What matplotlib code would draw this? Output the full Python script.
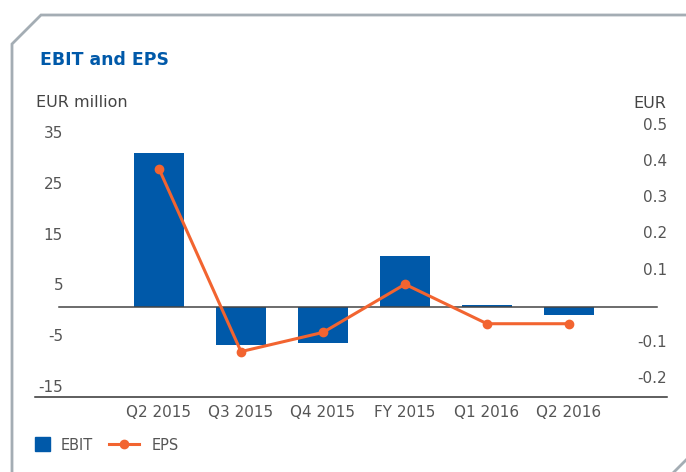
import matplotlib
matplotlib.use("Agg")
import matplotlib.pyplot as plt
from matplotlib.lines import Line2D
from matplotlib.patches import Rectangle
from matplotlib.transforms import ScaledTranslation

plt.rcParams['font.family'] = ['DejaVu Sans']

categories = ["Q2 2015", "Q3 2015", "Q4 2015", "FY 2015", "Q1 2016", "Q2 2016"]
ebit = [30.3, -7.5, -7.1, 10.0, 0.3, -1.6]
eps = [0.381, -0.124, -0.071, 0.062, -0.047, -0.047]
left_ticks = [-15, -5, 5, 15, 25, 35]
right_ticks = [-0.2, -0.1, 0.1, 0.2, 0.3, 0.4, 0.5]
right_ticklabels = ["-0.2", "-0.1", "0.1", "0.2", "0.3", "0.4", "0.5"]

BLUE = '#0059A9'
ORANGE = '#F26430'
GREY_TXT = '#555555'
FRAME = '#A4ADB4'

W, H = 686, 472
fig = plt.figure(figsize=(W / 100, H / 100), dpi=100)

def fx(x):
    return x / W

def fy(y):
    return 1 - y / H

ax_left, ax_right, ax_bottom, ax_top = 35, 667, 396.7, 115
ax = fig.add_axes([fx(ax_left), fy(ax_bottom), (ax_right - ax_left) / W, (ax_bottom - ax_top) / H])

x = list(range(len(categories)))
ax.bar(x, ebit, width=0.61, color=BLUE, zorder=2)
ax.set_xlim(-1.512, 6.195)
ax.set_ylim(-17.72, 37.74)
ax.axhline(0, xmin=(59 - 35) / 632, xmax=(657 - 35) / 632, color='#444444', lw=1.1, zorder=3)

for s in ['left', 'right', 'top']:
    ax.spines[s].set_visible(False)
ax.spines['bottom'].set_color('#333333')
ax.spines['bottom'].set_linewidth(1.1)

ax.set_xticks(x)
ax.set_xticklabels(categories)
ax.set_yticks(left_ticks)
ax.set_yticklabels([str(t) for t in left_ticks])
ax.tick_params(axis='x', length=0, pad=6, labelsize=11, labelcolor=GREY_TXT)
ax.tick_params(axis='y', length=0, pad=-20.2, labelsize=11, labelcolor=GREY_TXT)
for lab in ax.get_yticklabels():
    lab.set_transform(lab.get_transform() + ScaledTranslation(0, -3 / 100, fig.dpi_scale_trans))

ax2 = ax.twinx()
ax2.set_ylim(-0.2486, 0.5296)
ax2.plot(x, eps, color=ORANGE, lw=2.2, marker='o', markersize=6, zorder=4)
for s in ['left', 'right', 'top', 'bottom']:
    ax2.spines[s].set_visible(False)
ax2.set_yticks(right_ticks)
ax2.set_yticklabels(right_ticklabels)
ax2.tick_params(axis='y', length=0, pad=0, labelsize=11, labelcolor=GREY_TXT)
for lab in ax2.get_yticklabels():
    lab.set_ha('right')
    lab.set_transform(lab.get_transform() + ScaledTranslation(0, 2 / 100, fig.dpi_scale_trans))

# Texts
fig.text(fx(40), fy(65), "EBIT and EPS", fontsize=12.4, fontweight='bold', color=BLUE, ha='left', va='baseline')
fig.text(fx(36), fy(107), "EUR million", fontsize=11.5, color='#444444', ha='left', va='baseline')
fig.text(fx(666), fy(107.5), "EUR", fontsize=11.5, color='#444444', ha='right', va='baseline')

# Legend
fig.patches.append(Rectangle((fx(35), fy(451)), (50 - 35) / W, (451 - 437) / H,
                             transform=fig.transFigure, color=BLUE, figure=fig))
fig.text(fx(61), fy(449.5), "EBIT", fontsize=10.5, color=GREY_TXT, ha='left', va='baseline')
fig.lines.append(Line2D([fx(109), fx(139)], [fy(443.5), fy(443.5)], transform=fig.transFigure,
                        color=ORANGE, lw=2.2, figure=fig))
fig.lines.append(Line2D([fx(124)], [fy(443.5)], transform=fig.transFigure, color=ORANGE,
                        marker='o', markersize=6, lw=0, figure=fig))
fig.text(fx(152), fy(449.5), "EPS", fontsize=10.5, color=GREY_TXT, ha='left', va='baseline')

# Frame with cut corners
frame_pts_x = [fx(12), fx(12), fx(41), fx(690)]
frame_pts_y = [fy(480), fy(44), fy(15), fy(15)]
fig.lines.append(Line2D(frame_pts_x, frame_pts_y, transform=fig.transFigure, color=FRAME,
                        lw=2.0, solid_joinstyle='miter', figure=fig))
fig.lines.append(Line2D([fx(688), fx(671)], [fy(458), fy(475)], transform=fig.transFigure,
                        color=FRAME, lw=2.0, figure=fig))

fig.savefig("out.png", dpi=100)
